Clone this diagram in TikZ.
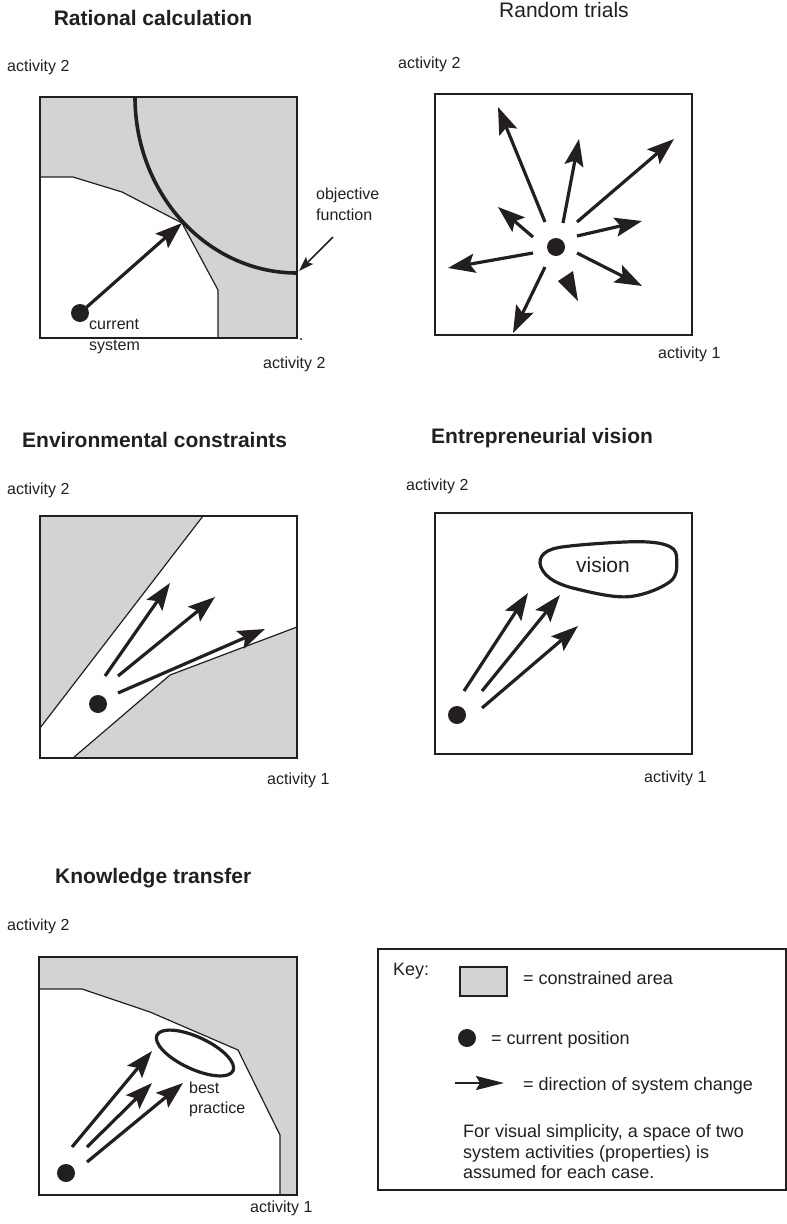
\documentclass[tikz,border=0pt]{standalone}
\usepackage{fontspec}
\setmainfont{Liberation Sans}
\usetikzlibrary{arrows.meta,shapes.geometric}
\definecolor{cgray}{HTML}{D1D3D4}
\definecolor{ink}{HTML}{231F20}
\tikzset{
  frame/.style={draw=ink, line width=2pt},
  edge/.style={draw=ink, line width=1.2pt, line join=round},
  arr/.style={draw=ink, line width=3.2pt, -{Stealth[length=27pt,width=19pt,inset=5pt]}},
  smallarr/.style={draw=ink, line width=1.6pt, -{Stealth[length=15pt,width=10pt,inset=3pt]}},
  dot/.style={circle, fill=ink, minimum size=18pt, inner sep=0pt},
  ttl/.style={anchor=base, font=\fontsize{21}{24}\selectfont\bfseries, text=ink, inner sep=0pt},
  ttlw/.style={anchor=base west, font=\fontsize{21}{24}\selectfont\bfseries, text=ink, inner sep=0pt},
  lab/.style={anchor=base west, font=\fontsize{16}{19}\selectfont, text=ink, inner sep=0pt},
  keyt/.style={anchor=base west, font=\fontsize{18}{21}\selectfont, text=ink, inner sep=0pt},
}
\begin{document}
\begin{tikzpicture}[x=1pt,y=-1pt]
\useasboundingbox (0,0) rectangle (787,1224);

% ---------- Panel 1: Rational calculation ----------
\node[ttl] (t1) at (153,25) {Rational calculation};
\node[lab] (p1y) at (7,71) {activity 2};
\fill[cgray] (40,97) rectangle (297,338);
\fill[white] (40,177) -- (73,177) -- (122,192) -- (182,223) -- (218,290) -- (218,338) -- (40,338) -- cycle;
\draw[edge] (40,177) -- (73,177) -- (122,192) -- (182,223) -- (218,290) -- (218,338);
\draw[frame] (40,97) rectangle (297,338);
\draw[ink, line width=2.6pt] (40,338) -- (218,338);
\draw[ink, line width=3.6pt] (135,97) .. controls (135,194.2) and (207.5,273) .. (297,273);
\coordinate (p1tip) at (182,223);
\node[dot] (d1) at (80,313) {};
\draw[arr] (d1.center) -- (p1tip);
\node[lab] (cs1) at (89,329) {current};
\node[lab] (cs2) at (89,350) {system};
\node[lab] (of1) at (316,199) {objective};
\node[lab] (of2) at (316,220) {function};
\coordinate (ofs) at (333,237);
\coordinate (ofe) at (299,271);
\draw[smallarr] (ofs) -- (ofe);
\fill[ink] (301,339) circle (1.2pt);
\node[lab] (p1x) at (263,368) {activity 2};

% ---------- Panel 2: Random trials ----------
\node[anchor=base, font=\fontsize{21}{24}\selectfont, text=ink, inner sep=0pt] (t2) at (564,17) {Random trials};
\node[lab] (p2y) at (398,68) {activity 2};
\draw[frame] (435,94) rectangle (692,335);
\node[dot] (d2) at (556,247) {};
\coordinate (r1s) at (545,222); \coordinate (r1e) at (498,107);
\coordinate (r2s) at (563,223); \coordinate (r2e) at (579,139);
\coordinate (r3s) at (577,222); \coordinate (r3e) at (674,139);
\coordinate (r4s) at (577,236); \coordinate (r4e) at (642,221);
\coordinate (r5s) at (577,253); \coordinate (r5e) at (642,286);
\coordinate (r7s) at (545,267); \coordinate (r7e) at (513,333);
\coordinate (r8s) at (533,253); \coordinate (r8e) at (448,268);
\coordinate (r9s) at (533,237); \coordinate (r9e) at (498,207);
\draw[arr] (r1s) -- (r1e);
\draw[arr] (r2s) -- (r2e);
\draw[arr] (r3s) -- (r3e);
\draw[arr] (r4s) -- (r4e);
\draw[arr] (r5s) -- (r5e);
\draw[arr] (r7s) -- (r7e);
\draw[arr] (r8s) -- (r8e);
\draw[arr] (r9s) -- (r9e);
\fill[ink] (558,281) -- (573,271) -- (578,301) -- cycle;
\node[lab] (p2x) at (658,358) {activity 1};

% ---------- Panel 3: Environmental constraints ----------
\node[ttlw] (t3) at (22,447) {Environmental constraints};
\node[lab] (p3y) at (7,494) {activity 2};
\fill[cgray] (40,516) -- (203,516) -- (40,728) -- cycle;
\fill[cgray] (73,758) -- (170,675) -- (297,627) -- (297,758) -- cycle;
\draw[edge] (203,516) -- (40,728);
\draw[edge] (73,758) -- (170,675) -- (297,627);
\draw[frame] (40,516) rectangle (297,758);
\node[dot] (d3) at (98,704) {};
\coordinate (e1s) at (105,676); \coordinate (e1e) at (170,583);
\coordinate (e2s) at (118,676); \coordinate (e2e) at (215,597);
\coordinate (e3s) at (118,693); \coordinate (e3e) at (265,629);
\draw[arr] (e1s) -- (e1e);
\draw[arr] (e2s) -- (e2e);
\draw[arr] (e3s) -- (e3e);
\node[lab] (p3x) at (267,784) {activity 1};

% ---------- Panel 4: Entrepreneurial vision ----------
\node[ttlw] (t4) at (431,443) {Entrepreneurial vision};
\node[lab] (p4y) at (406,490) {activity 2};
\draw[frame] (435,513) rectangle (692,754);
\draw[ink, line width=3.2pt] plot[smooth cycle, tension=0.6] coordinates {(540,563) (548.3,550.7) (576.7,545.3) (640,541.7) (670,546.7) (676.7,560) (670,581.7) (628.3,596.7) (576.7,589) (550,578.3)};
\node[anchor=base, font=\fontsize{21}{24}\selectfont, text=ink, inner sep=0pt] (vis) at (603,572) {vision};
\node[dot] (d4) at (457,715) {};
\coordinate (v1s) at (464,691); \coordinate (v1e) at (528,593);
\coordinate (v2s) at (482,691); \coordinate (v2e) at (560,595);
\coordinate (v3s) at (482,708); \coordinate (v3e) at (578,626);
\draw[arr] (v1s) -- (v1e);
\draw[arr] (v2s) -- (v2e);
\draw[arr] (v3s) -- (v3e);
\node[lab] (p4x) at (644,782) {activity 1};

% ---------- Panel 5: Knowledge transfer ----------
\node[ttlw] (t5) at (55,883) {Knowledge transfer};
\node[lab] (p5y) at (7,930) {activity 2};
\fill[cgray] (39,957) rectangle (297,1195);
\fill[white] (39,989) -- (82,989) -- (150,1012) -- (238,1050) -- (280,1135) -- (280,1195) -- (39,1195) -- cycle;
\draw[edge] (39,989) -- (82,989) -- (150,1012) -- (238,1050) -- (280,1135) -- (280,1195);
\draw[frame] (39,957) rectangle (297,1195);
\node[draw=ink, line width=3.2pt, ellipse, minimum width=84pt, minimum height=32pt, inner sep=0pt, rotate=-25] (bp) at (195,1053) {};
\node[lab] (bp1) at (189,1093) {best};
\node[lab] (bp2) at (189,1113) {practice};
\node[dot] (d5) at (66,1173) {};
\coordinate (k1s) at (72,1147); \coordinate (k1e) at (152,1051);
\coordinate (k2s) at (87,1147); \coordinate (k2e) at (152,1083);
\coordinate (k3s) at (87,1162); \coordinate (k3e) at (183,1083);
\draw[arr] (k1s) -- (k1e);
\draw[arr] (k2s) -- (k2e);
\draw[arr] (k3s) -- (k3e);
\node[lab] (p5x) at (250,1212) {activity 1};

% ---------- Key ----------
\draw[frame] (378,949) rectangle (786,1190);
\node[keyt] (key) at (393,975) {Key:};
\draw[ink, fill=cgray, line width=2.2pt] (460,967) rectangle (507,996);
\node[keyt] (kca) at (523,984) {= constrained area};
\node[dot] (kd) at (467,1038) {};
\node[keyt] (kcp) at (491,1044) {= current position};
\coordinate (kas) at (455,1083); \coordinate (kae) at (504,1083);
\draw[ink, line width=2.4pt, -{Stealth[length=28pt,width=14pt,inset=4pt]}] (kas) -- (kae);
\node[keyt] (kdc) at (523,1090) {= direction of system change};
\node[keyt] (n1) at (463,1137) {For visual simplicity, a space of two};
\node[keyt] (n2) at (463,1158) {system activities (properties) is};
\node[keyt] (n3) at (463,1178) {assumed for each case.};
\end{tikzpicture}
\end{document}
